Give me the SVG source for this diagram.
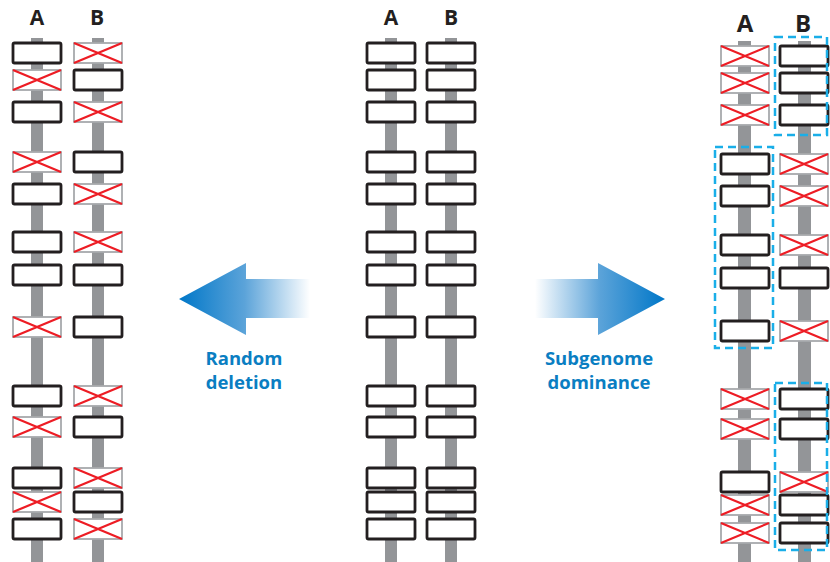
<svg xmlns="http://www.w3.org/2000/svg" xmlns:xlink="http://www.w3.org/1999/xlink" width="830" height="562" viewBox="0 0 830 562">
<style>
.bar{fill:#939598}
.lbl{font-family:"Open Sans","Liberation Sans",sans-serif;font-weight:bold;fill:#231f20;text-anchor:middle}
.cap{font-family:"Open Sans","Liberation Sans",sans-serif;font-weight:bold;fill:#0a7ec2;text-anchor:middle;font-size:18.5px}
.grp{fill:none;stroke:#1aaee8;stroke-width:2.5;stroke-dasharray:8 5}
</style>
<defs>
<g id="gene"><rect x="0" y="0" width="48" height="20" rx="1.5" fill="#fff" stroke="#231f20" stroke-width="2.8"/></g>
<g id="lost"><rect x="0" y="0" width="48" height="20" fill="#fff" stroke="#a7a9ac" stroke-width="1.8"/><path d="M0 0L48 20M48 0L0 20" stroke="#ed1c24" stroke-width="2.2" fill="none"/></g>
<linearGradient id="gL" x1="179" y1="0" x2="310" y2="0" gradientUnits="userSpaceOnUse"><stop offset="0" stop-color="#0077c8"/><stop offset="0.5" stop-color="#5ba3d9"/><stop offset="1" stop-color="#ffffff"/></linearGradient>
<linearGradient id="gR" x1="665" y1="0" x2="535" y2="0" gradientUnits="userSpaceOnUse"><stop offset="0" stop-color="#0077c8"/><stop offset="0.5" stop-color="#5ba3d9"/><stop offset="1" stop-color="#ffffff"/></linearGradient>
</defs>

<g id="left-panel">
<text class="lbl" x="37" y="25" font-size="21">A</text>
<text class="lbl" x="97" y="25" font-size="21">B</text>
<rect class="bar" x="31" y="38" width="12" height="524"/>
<rect class="bar" x="92" y="38" width="12" height="524"/>
<g id="left-A">
<use href="#gene" x="13" y="43"/><use href="#lost" x="13" y="70"/><use href="#gene" x="13" y="102"/><use href="#lost" x="13" y="152"/><use href="#gene" x="13" y="184"/><use href="#gene" x="13" y="232"/><use href="#gene" x="13" y="265"/><use href="#lost" x="13" y="317"/><use href="#gene" x="13" y="386"/><use href="#lost" x="13" y="417"/><use href="#gene" x="13" y="468"/><use href="#lost" x="13" y="492"/><use href="#gene" x="13" y="519"/>
</g>
<g id="left-B">
<use href="#lost" x="74" y="43"/><use href="#gene" x="74" y="70"/><use href="#lost" x="74" y="102"/><use href="#gene" x="74" y="152"/><use href="#lost" x="74" y="184"/><use href="#lost" x="74" y="232"/><use href="#gene" x="74" y="265"/><use href="#gene" x="74" y="317"/><use href="#lost" x="74" y="386"/><use href="#gene" x="74" y="417"/><use href="#lost" x="74" y="468"/><use href="#gene" x="74" y="492"/><use href="#lost" x="74" y="519"/>
</g>
</g>

<g id="middle-panel">
<text class="lbl" x="391" y="25" font-size="21">A</text>
<text class="lbl" x="451" y="25" font-size="21">B</text>
<rect class="bar" x="385" y="38" width="12" height="524"/>
<rect class="bar" x="445" y="38" width="12" height="524"/>
<g id="middle-A">
<use href="#gene" x="367" y="43"/><use href="#gene" x="367" y="70"/><use href="#gene" x="367" y="102"/><use href="#gene" x="367" y="152"/><use href="#gene" x="367" y="184"/><use href="#gene" x="367" y="232"/><use href="#gene" x="367" y="265"/><use href="#gene" x="367" y="317"/><use href="#gene" x="367" y="386"/><use href="#gene" x="367" y="417"/><use href="#gene" x="367" y="468"/><use href="#gene" x="367" y="492"/><use href="#gene" x="367" y="519"/>
</g>
<g id="middle-B">
<use href="#gene" x="427" y="43"/><use href="#gene" x="427" y="70"/><use href="#gene" x="427" y="102"/><use href="#gene" x="427" y="152"/><use href="#gene" x="427" y="184"/><use href="#gene" x="427" y="232"/><use href="#gene" x="427" y="265"/><use href="#gene" x="427" y="317"/><use href="#gene" x="427" y="386"/><use href="#gene" x="427" y="417"/><use href="#gene" x="427" y="468"/><use href="#gene" x="427" y="492"/><use href="#gene" x="427" y="519"/>
</g>
</g>

<g id="right-panel">
<text class="lbl" x="745" y="32" font-size="24">A</text>
<text class="lbl" x="803" y="32" font-size="24">B</text>
<rect class="bar" x="738" y="41" width="13" height="521"/>
<rect class="bar" x="798" y="41" width="13" height="521"/>
<g id="right-A">
<use href="#lost" x="721" y="46"/><use href="#lost" x="721" y="73"/><use href="#lost" x="721" y="105"/><use href="#gene" x="721" y="154"/><use href="#gene" x="721" y="186"/><use href="#gene" x="721" y="235"/><use href="#gene" x="721" y="268"/><use href="#gene" x="721" y="321"/><use href="#lost" x="721" y="389"/><use href="#lost" x="721" y="419"/><use href="#gene" x="721" y="472"/><use href="#lost" x="721" y="495"/><use href="#lost" x="721" y="523"/>
</g>
<g id="right-B">
<use href="#gene" x="780" y="46"/><use href="#gene" x="780" y="73"/><use href="#gene" x="780" y="105"/><use href="#lost" x="780" y="154"/><use href="#lost" x="780" y="186"/><use href="#lost" x="780" y="235"/><use href="#gene" x="780" y="268"/><use href="#lost" x="780" y="321"/><use href="#gene" x="780" y="389"/><use href="#gene" x="780" y="419"/><use href="#lost" x="780" y="472"/><use href="#gene" x="780" y="495"/><use href="#gene" x="780" y="523"/>
</g>
<g id="dominant-blocks">
<rect class="grp" x="775" y="37" width="52" height="98"/>
<rect class="grp" x="715" y="147" width="58" height="201"/>
<rect class="grp" x="775" y="383" width="52" height="167"/>
</g>
</g>

<g id="connectors">
<g id="arrow-random">
<path d="M179 299L246 263L246 279L310 279L310 318L246 318L246 335Z" fill="url(#gL)"/>
<text class="cap" x="244" y="365">Random</text>
<text class="cap" x="244" y="389">deletion</text>
</g>
<g id="arrow-dominance">
<path d="M665 299L598 263L598 279L535 279L535 318L598 318L598 335Z" fill="url(#gR)"/>
<text class="cap" x="599" y="365">Subgenome</text>
<text class="cap" x="599" y="389">dominance</text>
</g>
</g>
</svg>
